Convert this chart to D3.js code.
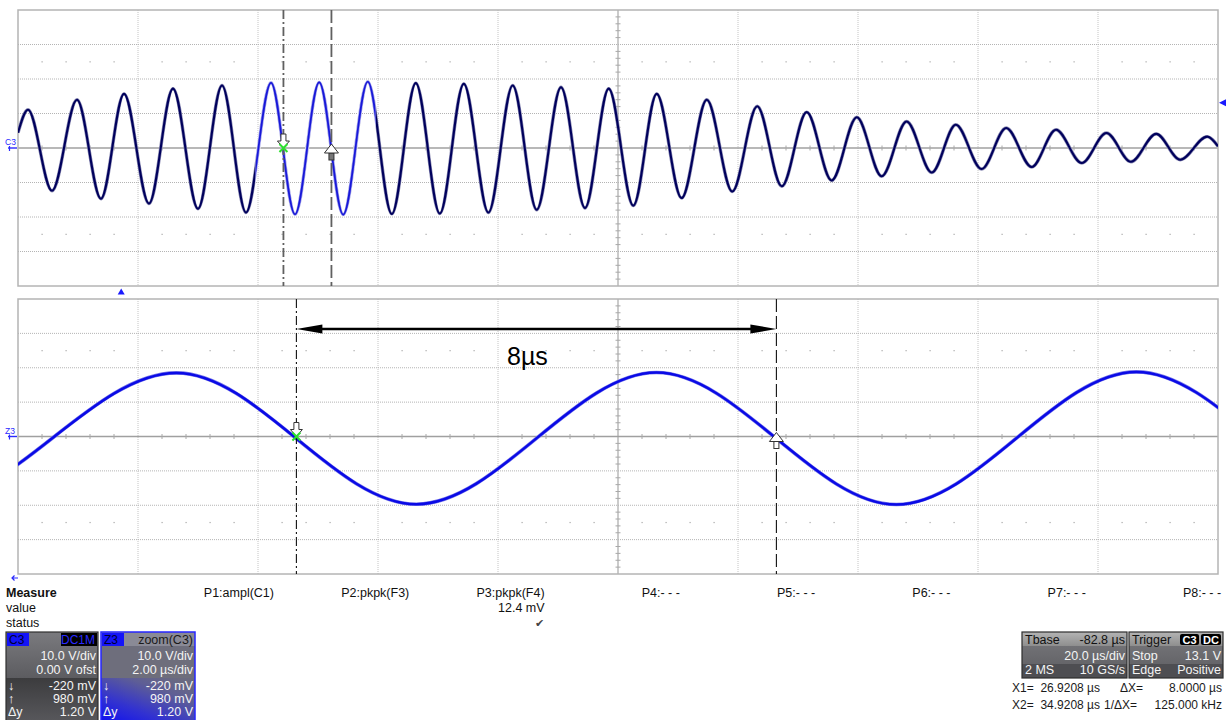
<!DOCTYPE html>
<html><head><meta charset="utf-8">
<script src="https://cdn.jsdelivr.net/npm/d3@7"></script>
<style>
html,body{margin:0;padding:0;background:#fff;}
svg{display:block;font-family:"Liberation Sans",Arial,sans-serif;}
</style></head><body>
<svg id="c" width="1229" height="720"></svg>
<script>
// ---------- data ----------
// main acquisition trace C3: extrema, time in µs (0..200 across screen), volts
const topTimes = [0, 1.67, 5.67, 9.83, 13.83, 17.67, 21.83, 25.83, 30.0, 34.0,
  38.0, 42.17, 46.17, 50.2, 54.2, 58.3, 62.3, 66.3, 70.3, 74.3,
  78.4, 82.45, 86.45, 90.5, 94.5, 98.45, 102.55, 106.45, 110.6, 114.8,
  119.05, 123.2, 127.3, 131.45, 135.6, 139.8, 143.95, 148.1, 152.3, 156.3,
  160.6, 164.7, 168.95, 173.0, 177.3, 181.4, 185.5, 189.7, 193.7, 198.2, 200];
const topVolts = [4.4, 11.1, -12.4, 14.0, -14.7, 15.7, -16.1, 17.2, -17.6, 18.1,
  -18.7, 18.9, -19.2, 19.0, -19.3, 19.2, -19.1, 18.8, -19.0, 18.6,
  -18.7, 18.1, -17.9, 17.6, -17.4, 17.2, -16.7, 15.7, -14.5, 14.0,
  -12.6, 12.1, -11.1, 10.4, -9.4, 8.9, -8.2, 7.7, -7.1, 6.75,
  -6.1, 5.8, -5.5, 5.3, -4.35, 4.35, -4.0, 4.1, -3.4, 3.3, 0.5];
// zoom trace Z3 (2 µs/div window): extrema (first/last lie just outside the window)
const zoomTimes = [34.1, 38.1, 42.24, 46.24, 50.24, 54.24, 58.24, 62.24, 66.24];
const zoomVolts = [18.2, -19.5, 18.5, -19.7, 18.6, -19.8, 18.8, -19.6, 18.8];
const zoomWindow = [39.6, 59.6];
const timeDomain = [0, 200];
const voltDomain = [-40, 40];
const cursorTimes = [44.24, 52.24];
const triggerTime = 17.2;
const triggerLevel = 13.1;
const deltaLabel = "8µs";

const measureLabels = ["P1:ampl(C1)", "P2:pkpk(F3)", "P3:pkpk(F4)", "P4:- - -", "P5:- - -", "P6:- - -", "P7:- - -", "P8:- - -"];
const measureValues = ["", "", "12.4 mV", "", "", "", "", ""];
const measureStatus = ["", "", "\u2714", "", "", "", "", ""];
const rowTitles = ["Measure", "value", "status"];

const c3Rows = ["10.0 V/div", "0.00 V ofst", "-220 mV", "980 mV", "1.20 V"];
const z3Rows = ["10.0 V/div", "2.00 \u00b5s/div", "-220 mV", "980 mV", "1.20 V"];
const rowSymbols = ["", "", "\u2193", "\u2191", "\u0394y"];
const cursorReadout = [["X1=", "26.9208 \u00b5s", "\u0394X=", "8.0000 \u00b5s"],
                       ["X2=", "34.9208 \u00b5s", "1/\u0394X=", "125.000 kHz"]];

// ---------- layout ----------
const svg = d3.select("#c");
const P1 = {x0: 18, x1: 1218, y0: 10, y1: 286};
const P2 = {x0: 18, x1: 1218, y0: 299, y1: 574};

const xTop = d3.scaleLinear().domain(timeDomain).range([P1.x0, P1.x1]);
const yTop = d3.scaleLinear().domain(voltDomain).range([P1.y1, P1.y0]);
const xBot = d3.scaleLinear().domain(zoomWindow).range([P2.x0, P2.x1]);
const yBot = d3.scaleLinear().domain(voltDomain).range([P2.y1, P2.y0]);

const defs = svg.append("defs");
defs.append("clipPath").attr("id", "clipTop").append("rect")
  .attr("x", P1.x0).attr("y", P1.y0).attr("width", P1.x1 - P1.x0).attr("height", P1.y1 - P1.y0);
defs.append("clipPath").attr("id", "clipBot").append("rect")
  .attr("x", P2.x0).attr("y", P2.y0).attr("width", P2.x1 - P2.x0).attr("height", P2.y1 - P2.y0);
defs.append("clipPath").attr("id", "clipZoomWin").append("rect")
  .attr("x", xTop(zoomWindow[0])).attr("y", P1.y0).attr("width", xTop(zoomWindow[1]) - xTop(zoomWindow[0])).attr("height", P1.y1 - P1.y0);

function grid(x, y, P) {
  const g = svg.append("g");
  const xc = (P.x0 + P.x1) / 2, yc = (P.y0 + P.y1) / 2;
  const xt = d3.range(1, 10).map(i => x.domain()[0] + i * (x.domain()[1] - x.domain()[0]) / 10);
  const yt = d3.range(1, 8).map(i => -40 + i * 10);
  const dotRows = [y(-40 + 15), y(-40 + 65)];
  const xs = d3.range(1, 50).filter(k => k % 5 !== 0).map(k => P.x0 + k * (P.x1 - P.x0) / 50);
  dotRows.forEach(ry => xs.forEach(px => g.append("rect").attr("x", px - 0.5).attr("y", ry - 0.5)
    .attr("width", 1.2).attr("height", 1.2).attr("fill", "#a8a8a8")));
  xt.forEach((t, i) => g.append("line").attr("x1", x(t)).attr("x2", x(t)).attr("y1", P.y0).attr("y2", P.y1)
    .attr("stroke", i === 4 ? "#a8a8a8" : "#c4c4c4").attr("stroke-width", i === 4 ? 1.2 : 1)
    .attr("stroke-dasharray", i === 4 ? null : "1,1"));
  yt.forEach((v, i) => g.append("line").attr("y1", y(v)).attr("y2", y(v)).attr("x1", P.x0).attr("x2", P.x1)
    .attr("stroke", i === 3 ? "#a0a0a0" : "#b4b4b4").attr("stroke-width", i === 3 ? 1.3 : 1)
    .attr("stroke-dasharray", i === 3 ? null : "1,1"));
  xs.forEach(px => g.append("line").attr("x1", px).attr("x2", px).attr("y1", yc - 2.5).attr("y2", yc + 2.5)
    .attr("stroke", "#a8a8a8").attr("stroke-width", 1));
  d3.range(1, 40).filter(k => k % 5 !== 0).forEach(k => {
    const py = P.y0 + k * (P.y1 - P.y0) / 40;
    g.append("line").attr("x1", xc - 2.5).attr("x2", xc + 2.5).attr("y1", py).attr("y2", py)
      .attr("stroke", "#a8a8a8").attr("stroke-width", 1);
  });
  g.append("rect").attr("x", P.x0).attr("y", P.y0).attr("width", P.x1 - P.x0).attr("height", P.y1 - P.y0)
    .attr("fill", "none").attr("stroke", "#b4b4b4").attr("stroke-width", 1.5);
}
grid(xTop, yTop, P1);
grid(xBot, yBot, P2);

// ---------- traces ----------
const topData = topTimes.map((t, i) => [t, topVolts[i]]);
const zoomData = zoomTimes.map((t, i) => [t, zoomVolts[i]]);
const lineTop = d3.line().x(d => xTop(d[0])).y(d => yTop(d[1])).curve(d3.curveMonotoneX);
const lineBot = d3.line().x(d => xBot(d[0])).y(d => yBot(d[1])).curve(d3.curveMonotoneX);

const gt = svg.append("g").attr("clip-path", "url(#clipTop)");
gt.append("path").attr("d", lineTop(topData)).attr("fill", "none").attr("stroke", "#8c8cb4").attr("stroke-width", 3.4).attr("stroke-linejoin", "round");
gt.append("path").attr("d", lineTop(topData)).attr("fill", "none").attr("stroke", "#00005c").attr("stroke-width", 2.1).attr("stroke-linejoin", "round");
const gz = svg.append("g").attr("clip-path", "url(#clipZoomWin)");
gz.append("path").attr("d", lineTop(topData)).attr("fill", "none").attr("stroke", "#ffffff").attr("stroke-width", 4);
gz.append("path").attr("d", lineTop(topData)).attr("fill", "none").attr("stroke", "#8a8ae8").attr("stroke-width", 3.0);
gz.append("path").attr("d", lineTop(topData)).attr("fill", "none").attr("stroke", "#1818d8").attr("stroke-width", 1.7);

const gb = svg.append("g").attr("clip-path", "url(#clipBot)");
gb.append("path").attr("d", lineBot(zoomData)).attr("fill", "none").attr("stroke", "#7a7ae8").attr("stroke-width", 3.6).attr("stroke-linejoin", "round");
gb.append("path").attr("d", lineBot(zoomData)).attr("fill", "none").attr("stroke", "#0a0ae6").attr("stroke-width", 2.5).attr("stroke-linejoin", "round");

// ---------- cursors ----------
function cursorLines(x, P, color, w) {
  cursorTimes.forEach((t, i) => {
    svg.append("line").attr("x1", x(t)).attr("x2", x(t)).attr("y1", P.y0).attr("y2", P.y1)
      .attr("stroke", color).attr("stroke-width", w)
      .attr("stroke-dasharray", i === 0 ? "9,3,2,3" : "13,4");
  });
}
cursorLines(xTop, P1, "#606060", 1.8);
cursorLines(xBot, P2, "#111", 1.1);

function downArrow(cx, cy) {
  svg.append("path").attr("d", `M${cx-2.5},${cy-14}L${cx+2.5},${cy-14}L${cx+2.5},${cy-7}L${cx+6},${cy-7}L${cx},${cy}L${cx-6},${cy-7}L${cx-2.5},${cy-7}Z`)
    .attr("fill", "#fff").attr("stroke", "#333").attr("stroke-width", 1);
}
function upArrow(cx, cy, shaftFill) {
  svg.append("rect").attr("x", cx - 2.5).attr("y", cy + 5).attr("width", 5).attr("height", 7)
    .attr("fill", shaftFill).attr("stroke", "#333").attr("stroke-width", 1);
  svg.append("path").attr("d", `M${cx},${cy-4}L${cx+7},${cy+5}L${cx-7},${cy+5}Z`)
    .attr("fill", "#fff").attr("stroke", "#333").attr("stroke-width", 1);
}
function greenX(cx, cy) {
  svg.append("path").attr("d", `M${cx-4},${cy-4}L${cx+4},${cy+4}M${cx+4},${cy-4}L${cx-4},${cy+4}`)
    .attr("stroke", "#2ee02e").attr("stroke-width", 2);
}
downArrow(xTop(cursorTimes[0]), yTop(0));
greenX(xTop(cursorTimes[0]), yTop(0));
upArrow(xTop(cursorTimes[1]), yTop(0), "#777");
downArrow(xBot(cursorTimes[0]), yBot(0));
greenX(xBot(cursorTimes[0]), yBot(0));
upArrow(xBot(cursorTimes[1]), yBot(0), "#fff");

// delta arrow
const ax0 = xBot(cursorTimes[0]), ax1 = xBot(cursorTimes[1]), ay = 329;
svg.append("line").attr("x1", ax0 + 20).attr("x2", ax1 - 20).attr("y1", ay).attr("y2", ay)
  .attr("stroke", "#000").attr("stroke-width", 2.4);
svg.append("path").attr("d", `M${ax0},${ay}L${ax0+26},${ay-4.5}L${ax0+26},${ay+4.5}Z`).attr("fill", "#000");
svg.append("path").attr("d", `M${ax1},${ay}L${ax1-26},${ay-4.5}L${ax1-26},${ay+4.5}Z`).attr("fill", "#000");
svg.append("text").attr("x", (ax0 + ax1) / 2 - 9).attr("y", 365).attr("text-anchor", "middle")
  .attr("font-size", 25).attr("fill", "#000").text(deltaLabel);

// ---------- markers ----------
const tx = xTop(triggerTime);
svg.append("path").attr("d", `M${tx},${288.5}L${tx+3.5},${294.5}L${tx-3.5},${294.5}Z`).attr("fill", "#1a1aff");
const ty = yTop(triggerLevel);
svg.append("path").attr("d", `M${P1.x1+1},${ty}L${P1.x1+8},${ty-3.5}L${P1.x1+8},${ty+3.5}Z`).attr("fill", "#1a1aff");
function chLabel(txt, cy) {
  svg.append("text").attr("x", 5).attr("y", cy - 3).attr("font-size", 8.5).attr("fill", "#2a2aff").text(txt);
  svg.append("line").attr("x1", 8).attr("x2", 17).attr("y1", cy).attr("y2", cy).attr("stroke", "#2a2aff").attr("stroke-width", 1.4);
  svg.append("line").attr("x1", 9.5).attr("x2", 9.5).attr("y1", cy - 2).attr("y2", cy + 3).attr("stroke", "#2a2aff").attr("stroke-width", 1.2);
}
chLabel("C3", yTop(0));
chLabel("Z3", yBot(0));
svg.append("path").attr("d", "M18,578L12,578M14.5,575.5L12,578L14.5,580.5").attr("stroke", "#2a2aff").attr("fill", "none").attr("stroke-width", 1.2);

// ---------- measure table ----------
const mfs = 12.5;
rowTitles.forEach((t, i) => svg.append("text").attr("x", 6).attr("y", 597 + i * 15)
  .attr("font-size", mfs).attr("font-weight", i === 0 ? "bold" : "normal").attr("fill", "#111").text(t));
const colRight = measureLabels.map((_, i) => 274 + i * 135.3);
measureLabels.forEach((t, i) => {
  svg.append("text").attr("x", colRight[i]).attr("y", 597).attr("text-anchor", "end").attr("font-size", mfs).attr("fill", "#111").text(t);
  svg.append("text").attr("x", colRight[i]).attr("y", 612).attr("text-anchor", "end").attr("font-size", mfs).attr("fill", "#111").text(measureValues[i]);
  svg.append("text").attr("x", colRight[i] - 1).attr("y", 627).attr("text-anchor", "end").attr("font-size", 11).attr("fill", "#444").text(measureStatus[i]);
});

// ---------- channel boxes ----------
const g1 = defs.append("linearGradient").attr("id", "gUp").attr("x1", 0).attr("y1", 0).attr("x2", 0).attr("y2", 1);
g1.append("stop").attr("offset", 0).attr("stop-color", "#7a7a7e");
g1.append("stop").attr("offset", 1).attr("stop-color", "#5c5c60");
const g2 = defs.append("linearGradient").attr("id", "gLow").attr("x1", 0).attr("y1", 0).attr("x2", 0).attr("y2", 1);
g2.append("stop").attr("offset", 0).attr("stop-color", "#3c3c3e");
g2.append("stop").attr("offset", 1).attr("stop-color", "#58585c");
const g3 = defs.append("linearGradient").attr("id", "gBlue").attr("x1", 0).attr("y1", 1).attr("x2", 0.8).attr("y2", 0);
g3.append("stop").attr("offset", 0).attr("stop-color", "#1010f0");
g3.append("stop").attr("offset", 0.35).attr("stop-color", "#3232d0");
g3.append("stop").attr("offset", 0.75).attr("stop-color", "#5e5e96");
g3.append("stop").attr("offset", 1).attr("stop-color", "#6a6a80");
const g4 = defs.append("linearGradient").attr("id", "gHead").attr("x1", 0).attr("y1", 0).attr("x2", 0).attr("y2", 1);
g4.append("stop").attr("offset", 0).attr("stop-color", "#b4b4b4");
g4.append("stop").attr("offset", 1).attr("stop-color", "#8e8e8e");

function chBox(bx, bw, name, tag, rows, zoomStyle) {
  const by = 632, right = bx + bw - 2;
  svg.append("rect").attr("x", bx).attr("y", by).attr("width", bw).attr("height", 46).attr("fill", zoomStyle ? "#6e6e7c" : "url(#gUp)");
  svg.append("rect").attr("x", bx).attr("y", 678).attr("width", bw).attr("height", 44).attr("fill", zoomStyle ? "url(#gBlue)" : "url(#gLow)");
  if (zoomStyle) svg.append("rect").attr("x", bx).attr("y", by).attr("width", bw).attr("height", 14).attr("fill", "#8a8a96");
  svg.append("rect").attr("x", bx).attr("y", by).attr("width", bw).attr("height", 92).attr("fill", "none")
    .attr("stroke", zoomStyle ? "#2626ff" : "#303030").attr("stroke-width", zoomStyle ? 1.5 : 1.2);
  svg.append("rect").attr("x", bx + 1).attr("y", by + 1).attr("width", 22).attr("height", 13).attr("fill", "#1414f8");
  svg.append("text").attr("x", bx + 3).attr("y", by + 12).attr("font-size", 12).attr("fill", "#000030").text(name);
  if (!zoomStyle) {
    svg.append("rect").attr("x", right - 35).attr("y", by + 1).attr("width", 36).attr("height", 13).attr("fill", "#000");
    svg.append("text").attr("x", right - 1).attr("y", by + 12).attr("text-anchor", "end").attr("font-size", 12).attr("fill", "#2a2aff").text(tag);
  } else {
    svg.append("text").attr("x", right).attr("y", by + 12).attr("text-anchor", "end").attr("font-size", 12.5).attr("fill", "#1a1a1a").text(tag);
  }
  const ys = [660, 674, 690, 703, 716];
  rows.forEach((r, i) => {
    svg.append("text").attr("x", right).attr("y", ys[i]).attr("text-anchor", "end").attr("font-size", 12.5).attr("fill", "#f4f4f4").text(r);
    if (rowSymbols[i]) svg.append("text").attr("x", bx + 2).attr("y", ys[i]).attr("font-size", 12.5).attr("fill", "#f4f4f4").text(rowSymbols[i]);
  });
}
chBox(6, 92, "C3", "DC1M", c3Rows, false);
chBox(101, 94, "Z3", "zoom(C3)", z3Rows, true);

// ---------- timebase / trigger boxes ----------
function infoBox(bx, bw, head, headRight, rowsL, rowsR, badges) {
  const by = 632, right = bx + bw - 2;
  svg.append("rect").attr("x", bx).attr("y", by).attr("width", bw).attr("height", 46).attr("fill", "url(#gUp)");
  svg.append("rect").attr("x", bx).attr("y", 664).attr("width", bw).attr("height", 14).attr("fill", "#4e4e52");
  svg.append("rect").attr("x", bx).attr("y", by).attr("width", bw).attr("height", 14).attr("fill", "url(#gHead)");
  svg.append("rect").attr("x", bx).attr("y", by).attr("width", bw).attr("height", 46).attr("fill", "none").attr("stroke", "#2e2e2e").attr("stroke-width", 1.2);
  svg.append("text").attr("x", bx + 3).attr("y", by + 12).attr("font-size", 12.5).attr("fill", "#111").text(head);
  if (headRight) svg.append("text").attr("x", right).attr("y", by + 12).attr("text-anchor", "end").attr("font-size", 12.5).attr("fill", "#111").text(headRight);
  if (badges) badges.forEach((b, i) => {
    const w = i === 0 ? 19 : 20, x = right - 41 + (i === 0 ? 0 : 21);
    svg.append("rect").attr("x", x).attr("y", by + 2).attr("width", w).attr("height", 11).attr("rx", 2).attr("fill", "#000");
    svg.append("text").attr("x", x + w / 2).attr("y", by + 11.5).attr("text-anchor", "middle").attr("font-size", 11).attr("font-weight", "bold").attr("fill", "#fff").text(b);
  });
  [660, 674].forEach((yy, i) => {
    if (rowsL[i]) svg.append("text").attr("x", bx + 3).attr("y", yy).attr("font-size", 12.5).attr("fill", "#f4f4f4").text(rowsL[i]);
    if (rowsR[i]) svg.append("text").attr("x", right).attr("y", yy).attr("text-anchor", "end").attr("font-size", 12.5).attr("fill", "#f4f4f4").text(rowsR[i]);
  });
}
infoBox(1022, 105, "Tbase", "-82.8 \u00b5s", ["", "2 MS"], ["20.0 \u00b5s/div", "10 GS/s"], null);
infoBox(1129, 94, "Trigger", null, ["Stop", "Edge"], ["13.1 V", "Positive"], ["C3", "DC"]);

const readLeft = [[1012, 1100, 1120, 1222], [1012, 1100, 1104, 1222]];
cursorReadout.forEach((r, i) => {
  const yy = 692 + i * 16.5, p = readLeft[i];
  svg.append("text").attr("x", p[0]).attr("y", yy).attr("font-size", 12).attr("fill", "#1a1a1a").text(r[0]);
  svg.append("text").attr("x", p[1]).attr("y", yy).attr("text-anchor", "end").attr("font-size", 12).attr("fill", "#1a1a1a").text(r[1]);
  svg.append("text").attr("x", p[2]).attr("y", yy).attr("font-size", 12).attr("fill", "#1a1a1a").text(r[2]);
  svg.append("text").attr("x", p[3]).attr("y", yy).attr("text-anchor", "end").attr("font-size", 12).attr("fill", "#1a1a1a").text(r[3]);
});
</script>
</body></html>
